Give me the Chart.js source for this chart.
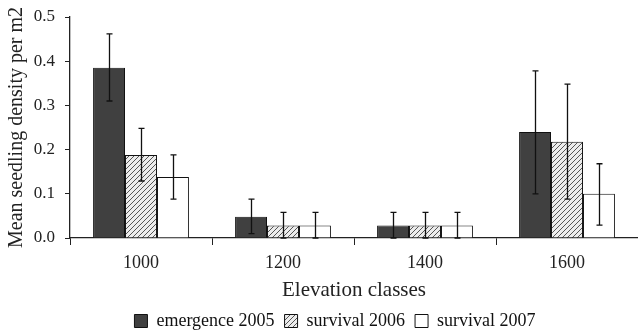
<!DOCTYPE html>
<html>
<head>
<meta charset="utf-8">
<script src="https://cdn.jsdelivr.net/npm/chart.js@4.4.0/dist/chart.umd.min.js"></script>
<style>
html,body{margin:0;padding:0;background:#fff;overflow:hidden;}
#wrap{width:638px;height:331px;position:relative;}
</style>
</head>
<body>
<div id="wrap"><canvas id="c" width="638" height="331"></canvas></div>
<script>
const categories = ['1000', '1200', '1400', '1600'];
const seriesNames = ['emergence 2005', 'survival 2006', 'survival 2007'];
const emergence2005 = [0.385, 0.048, 0.028, 0.24];
const survival2006 = [0.188, 0.028, 0.028, 0.218];
const survival2007 = [0.138, 0.028, 0.028, 0.10];
const emergence2005Low = [0.31, 0.01, 0.0, 0.10];
const emergence2005High = [0.462, 0.088, 0.058, 0.378];
const survival2006Low = [0.129, 0.0, 0.0, 0.088];
const survival2006High = [0.248, 0.058, 0.058, 0.348];
const survival2007Low = [0.088, 0.0, 0.0, 0.029];
const survival2007High = [0.188, 0.058, 0.058, 0.168];
const yTicks = [0, 0.1, 0.2, 0.3, 0.4, 0.5];

function hatch() {
  const p = document.createElement('canvas');
  p.width = 5; p.height = 5;
  const g = p.getContext('2d');
  g.fillStyle = '#ececec';
  g.fillRect(0, 0, 5, 5);
  g.strokeStyle = '#555';
  g.lineWidth = 1;
  g.beginPath();
  g.moveTo(0, 5); g.lineTo(5, 0);
  g.moveTo(-1, 1); g.lineTo(1, -1);
  g.moveTo(4, 6); g.lineTo(6, 4);
  g.stroke();
  return g.createPattern(p, 'repeat');
}

const errors = [
  [emergence2005Low, emergence2005High],
  [survival2006Low, survival2006High],
  [survival2007Low, survival2007High]
];

const errorBarPlugin = {
  id: 'errorBars',
  afterDatasetsDraw(chart) {
    const ctx = chart.ctx;
    const y = chart.scales.y;
    ctx.save();
    ctx.strokeStyle = '#111';
    ctx.lineWidth = 1.3;
    chart.data.datasets.forEach((ds, di) => {
      const meta = chart.getDatasetMeta(di);
      meta.data.forEach((bar, i) => {
        const lo = y.getPixelForValue(errors[di][0][i]);
        const hi = y.getPixelForValue(errors[di][1][i]);
        const x = Math.round(bar.x) + 0.5;
        ctx.beginPath();
        ctx.moveTo(x, lo); ctx.lineTo(x, hi);
        ctx.moveTo(x - 3, hi); ctx.lineTo(x + 3, hi);
        ctx.moveTo(x - 3, lo); ctx.lineTo(x + 3, lo);
        ctx.stroke();
      });
    });
    ctx.restore();
  }
};

const legendShift = {
  id: 'legendShift',
  afterLayout(chart) {
    const lg = chart.legend;
    if (!lg) return;
    lg.left += 16; lg.right += 16;
    lg.top += 9; lg.bottom += 9;
  }
};

const serif = "'Liberation Serif', 'Times New Roman', serif";

new Chart(document.getElementById('c'), {
  type: 'bar',
  data: {
    labels: categories,
    datasets: [
      { label: seriesNames[0], data: emergence2005, backgroundColor: '#404040', borderColor: '#111', borderWidth: 1 },
      { label: seriesNames[1], data: survival2006, backgroundColor: hatch(), borderColor: '#111', borderWidth: 1 },
      { label: seriesNames[2], data: survival2007, backgroundColor: '#ffffff', borderColor: '#111', borderWidth: 1 }
    ]
  },
  plugins: [errorBarPlugin, legendShift],
  options: {
    responsive: false,
    animation: false,
    devicePixelRatio: 1,
    layout: { padding: { top: 17, right: 0, left: 0, bottom: 0 } },
    categoryPercentage: 0.675,
    barPercentage: 1.0,
    plugins: {
      legend: {
        position: 'bottom',
        labels: {
          font: { family: serif, size: 18 },
          color: '#111',
          boxWidth: 13,
          boxHeight: 13,
          padding: 10
        }
      },
      tooltip: { enabled: false }
    },
    scales: {
      x: {
        offset: true,
        grid: { display: true, drawOnChartArea: false, offset: true, tickLength: 7, color: '#222' },
        border: { color: '#222', width: 1.3 },
        ticks: { font: { family: serif, size: 18 }, color: '#222', padding: 7 },
        title: { display: true, text: 'Elevation classes', font: { family: serif, size: 21, lineHeight: 1 }, color: '#222', padding: { top: 0, bottom: -7.5 } },
        afterFit(s) { s.height = 55; }
      },
      y: {
        min: 0, max: 0.5,
        afterBuildTicks(s) { s.ticks = yTicks.map(v => ({ value: v })); },
        grid: { display: true, drawOnChartArea: false, tickLength: 5, color: '#222' },
        border: { color: '#222', width: 1.3 },
        ticks: { font: { family: serif, size: 17 }, color: '#222', padding: 10, callback: v => Number(v).toFixed(1) },
        title: { display: true, text: 'Mean seedling density per m2', font: { family: serif, size: 20 }, color: '#222', padding: { top: 5, bottom: 0 } },
        afterFit(s) { s.width = 70; s.paddingTop = 0; s.paddingBottom = 0; }
      }
    }
  }
});
</script>
</body>
</html>
